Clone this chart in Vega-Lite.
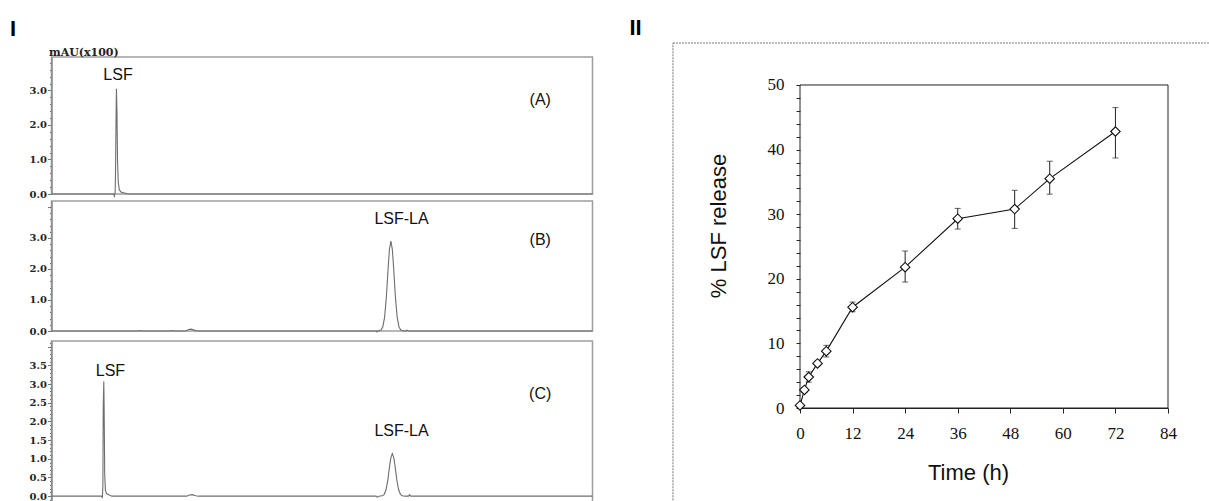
{
  "$schema": "https://vega.github.io/schema/vega-lite/v6.json",
  "background": "white",
  "padding": {"left": 9.5, "top": 16, "right": 0, "bottom": 0},
  "datasets": {
    "A": [
      {"t": 0, "v": 0}, {"t": 3.45, "v": 0}, {"t": 3.49, "v": -0.06}, {"t": 3.53, "v": 0.05}, {"t": 3.55, "v": 0.6},
      {"t": 3.58, "v": 2.2}, {"t": 3.6, "v": 3.05}, {"t": 3.63, "v": 2.4}, {"t": 3.66, "v": 1.0}, {"t": 3.7, "v": 0.35},
      {"t": 3.76, "v": 0.12}, {"t": 3.85, "v": 0.06}, {"t": 3.95, "v": 0.04}, {"t": 4.1, "v": 0.02}, {"t": 4.25, "v": 0}, {"t": 30, "v": 0}
    ],
    "B": [
      {"t": 0, "v": 0}, {"t": 4.85, "v": 0}, {"t": 4.9, "v": 0.02}, {"t": 4.95, "v": 0}, {"t": 6.65, "v": 0}, {"t": 6.7, "v": 0.02},
      {"t": 6.75, "v": 0}, {"t": 7.45, "v": 0}, {"t": 7.6, "v": 0.05}, {"t": 7.75, "v": 0.06}, {"t": 7.95, "v": 0.02}, {"t": 8.1, "v": 0},
      {"t": 18.0, "v": 0}, {"t": 18.05, "v": -0.03}, {"t": 18.1, "v": 0}, {"t": 18.27, "v": 0.03}, {"t": 18.37, "v": 0.13},
      {"t": 18.47, "v": 0.44}, {"t": 18.57, "v": 1.1}, {"t": 18.67, "v": 2.05}, {"t": 18.74, "v": 2.63}, {"t": 18.82, "v": 2.9},
      {"t": 18.9, "v": 2.63}, {"t": 18.97, "v": 2.05}, {"t": 19.07, "v": 1.1}, {"t": 19.17, "v": 0.44}, {"t": 19.27, "v": 0.13},
      {"t": 19.37, "v": 0.03}, {"t": 19.5, "v": 0.01}, {"t": 19.65, "v": 0}, {"t": 19.72, "v": 0.03}, {"t": 19.8, "v": 0}, {"t": 30, "v": 0}
    ],
    "C": [
      {"t": 0, "v": 0}, {"t": 2.78, "v": 0}, {"t": 2.82, "v": -0.05}, {"t": 2.85, "v": 0.3}, {"t": 2.87, "v": 2.4}, {"t": 2.9, "v": 3.07},
      {"t": 2.92, "v": 2.3}, {"t": 2.95, "v": 0.6}, {"t": 2.99, "v": 0.15}, {"t": 3.05, "v": 0.07}, {"t": 3.2, "v": 0.03}, {"t": 3.35, "v": 0},
      {"t": 7.5, "v": 0}, {"t": 7.65, "v": 0.03}, {"t": 7.8, "v": 0.04}, {"t": 8.0, "v": 0.01}, {"t": 8.15, "v": 0},
      {"t": 18.0, "v": 0}, {"t": 18.08, "v": -0.03}, {"t": 18.15, "v": 0}, {"t": 18.35, "v": 0.01}, {"t": 18.45, "v": 0.05},
      {"t": 18.55, "v": 0.17}, {"t": 18.65, "v": 0.43}, {"t": 18.75, "v": 0.81}, {"t": 18.82, "v": 1.03}, {"t": 18.9, "v": 1.14},
      {"t": 18.98, "v": 1.03}, {"t": 19.05, "v": 0.81}, {"t": 19.15, "v": 0.43}, {"t": 19.25, "v": 0.17}, {"t": 19.35, "v": 0.05},
      {"t": 19.45, "v": 0.01}, {"t": 19.6, "v": 0}, {"t": 19.8, "v": 0}, {"t": 19.86, "v": 0.04}, {"t": 19.92, "v": 0}, {"t": 30, "v": 0}
    ],
    "release": [
      {"t": 0, "mean": 0.4, "lo": 0.2, "hi": 0.6},
      {"t": 1, "mean": 2.8, "lo": 2.4, "hi": 3.2},
      {"t": 2, "mean": 4.8, "lo": 4.0, "hi": 5.6},
      {"t": 4, "mean": 6.9, "lo": 6.5, "hi": 7.3},
      {"t": 6, "mean": 8.8, "lo": 7.9, "hi": 9.7},
      {"t": 12, "mean": 15.6, "lo": 14.9, "hi": 16.4},
      {"t": 24, "mean": 21.8, "lo": 19.5, "hi": 24.3},
      {"t": 36, "mean": 29.3, "lo": 27.7, "hi": 30.9},
      {"t": 49, "mean": 30.8, "lo": 27.8, "hi": 33.7},
      {"t": 57, "mean": 35.5, "lo": 33.1, "hi": 38.2},
      {"t": 72, "mean": 42.8, "lo": 38.7, "hi": 46.5}
    ]
  },
  "columns": 2,
  "align": "none",
  "spacing": 33.5,
  "concat": [
    {
      "title": {"text": "I", "anchor": "start", "frame": "group", "dx": -41.5, "font": "Liberation Sans", "fontSize": 22, "fontWeight": "bold", "color": "black", "offset": 4},
      "spacing": 0,
      "vconcat": [
        {
          "width": 541, "height": 137,
          "view": {"stroke": "#9e9e9e", "strokeWidth": 1.5},
          "layer": [
            {
              "data": {"name": "A"},
              "mark": {"type": "line", "color": "#6e6e6e", "strokeWidth": 1.1},
              "encoding": {
                "x": {"field": "t", "type": "quantitative", "scale": {"domain": [0, 30], "nice": false, "zero": false},
                  "axis": {"title": null, "labels": false, "ticks": false, "domain": false, "grid": false}},
                "y": {"field": "v", "type": "quantitative", "scale": {"domain": [0, 3.97], "nice": false, "zero": false},
                  "axis": {
                    "title": "mAU(x100)", "titleAngle": 0, "titleAlign": "left", "titleBaseline": "alphabetic", "titleX": -3, "titleY": -2,
                    "titleFont": "DejaVu Serif", "titleFontWeight": "bold", "titleFontSize": 11, "titleColor": "#222",
                    "values": [0, 0.2, 0.4, 0.6, 0.8, 1, 1.2, 1.4, 1.6, 1.8, 2, 2.2, 2.4, 2.6, 2.8, 3, 3.2, 3.4, 3.6, 3.8], "tickCount": 500,
                    "labelExpr": "abs(datum.value - round(datum.value)) < 0.001 ? format(datum.value, '.1f') : ''",
                    "labelOverlap": false, "labelFont": "DejaVu Serif", "labelFontWeight": "bold", "labelFontSize": 10, "labelColor": "#222", "labelPadding": 1,
                    "tickSize": {"condition": {"test": "abs(datum.value - round(datum.value)) < 0.001", "value": 4}, "value": 2},
                    "tickColor": "#777", "domainColor": "#8a8a8a", "domainWidth": 1.5, "grid": false
                  }
                }
              }
            },
            {
              "data": {"values": [{}]},
              "mark": {"type": "text", "text": "LSF", "font": "Liberation Sans", "fontSize": 16, "color": "#111"},
              "encoding": {"x": {"datum": 3.69}, "y": {"datum": 3.46}}
            },
            {
              "data": {"values": [{}]},
              "mark": {"type": "text", "text": "(A)", "font": "Liberation Sans", "fontSize": 16, "color": "#111"},
              "encoding": {"x": {"datum": 27.1}, "y": {"datum": 2.72}}
            }
          ]
        },
        {
          "width": 541, "height": 130,
          "view": {"stroke": "#9e9e9e", "strokeWidth": 1.5},
          "layer": [
            {
              "data": {"name": "B"},
              "mark": {"type": "line", "color": "#6e6e6e", "strokeWidth": 1.1},
              "encoding": {
                "x": {"field": "t", "type": "quantitative", "scale": {"domain": [0, 30], "nice": false, "zero": false},
                  "axis": {"title": null, "labels": false, "ticks": false, "domain": false, "grid": false}},
                "y": {"field": "v", "type": "quantitative", "scale": {"domain": [0, 4.19], "nice": false, "zero": false},
                  "axis": {
                    "title": null,
                    "values": [0, 0.2, 0.4, 0.6, 0.8, 1, 1.2, 1.4, 1.6, 1.8, 2, 2.2, 2.4, 2.6, 2.8, 3, 3.2, 3.4, 3.6, 3.8, 4], "tickCount": 500,
                    "labelExpr": "abs(datum.value - round(datum.value)) < 0.001 && datum.value < 3.5 ? format(datum.value, '.1f') : ''",
                    "labelOverlap": false, "labelFont": "DejaVu Serif", "labelFontWeight": "bold", "labelFontSize": 10, "labelColor": "#222", "labelPadding": 1,
                    "tickSize": {"condition": {"test": "abs(datum.value - round(datum.value)) < 0.001", "value": 4}, "value": 2},
                    "tickColor": "#777", "domainColor": "#8a8a8a", "domainWidth": 1.5, "grid": false
                  }
                }
              }
            },
            {
              "data": {"values": [{}]},
              "mark": {"type": "text", "text": "LSF-LA", "font": "Liberation Sans", "fontSize": 16, "color": "#111"},
              "encoding": {"x": {"datum": 19.41}, "y": {"datum": 3.61}}
            },
            {
              "data": {"values": [{}]},
              "mark": {"type": "text", "text": "(B)", "font": "Liberation Sans", "fontSize": 16, "color": "#111"},
              "encoding": {"x": {"datum": 27.1}, "y": {"datum": 2.94}}
            }
          ]
        },
        {
          "width": 541, "height": 172,
          "view": {"stroke": "#9e9e9e", "strokeWidth": 1.5},
          "layer": [
            {
              "data": {"name": "C"},
              "mark": {"type": "line", "color": "#6e6e6e", "strokeWidth": 1.1},
              "encoding": {
                "x": {"field": "t", "type": "quantitative", "scale": {"domain": [0, 30], "nice": false, "zero": false},
                  "axis": {
                    "title": null,
                    "values": [0, 1, 2, 3, 4, 5, 6, 7, 8, 9, 10, 11, 12, 13, 14, 15, 16, 17, 18, 19, 20, 21, 22, 23, 24, 25, 26, 27, 28, 29, 30], "tickCount": 500,
                    "labelExpr": "datum.value % 5 === 0 && datum.value > 0 && datum.value < 30 ? format(datum.value, '.1f') : ''",
                    "labelOverlap": false, "labelFlush": false, "labelFont": "DejaVu Serif", "labelFontWeight": "bold", "labelFontSize": 10, "labelColor": "#222", "labelPadding": -1,
                    "tickSize": {"condition": {"test": "datum.value % 5 === 0", "value": 4}, "value": 3},
                    "tickColor": "#777", "domainColor": "#8a8a8a", "domainWidth": 1.5, "grid": false
                  }
                },
                "y": {"field": "v", "type": "quantitative", "scale": {"domain": [-0.45, 4.15], "nice": false, "zero": false},
                  "axis": {
                    "title": null,
                    "values": [-0.4, -0.3, -0.2, -0.1, 0, 0.1, 0.2, 0.3, 0.4, 0.5, 0.6, 0.7, 0.8, 0.9, 1, 1.1, 1.2, 1.3, 1.4, 1.5, 1.6, 1.7, 1.8, 1.9, 2, 2.1, 2.2, 2.3, 2.4, 2.5, 2.6, 2.7, 2.8, 2.9, 3, 3.1, 3.2, 3.3, 3.4, 3.5, 3.6, 3.7, 3.8, 3.9, 4, 4.1], "tickCount": 500,
                    "labelExpr": "abs(datum.value * 2 - round(datum.value * 2)) < 0.001 && datum.value > -0.01 && datum.value < 3.6 ? format(datum.value, '.1f') : ''",
                    "labelOverlap": false, "labelFont": "DejaVu Serif", "labelFontWeight": "bold", "labelFontSize": 10, "labelColor": "#222", "labelPadding": 1,
                    "tickSize": {"condition": {"test": "abs(datum.value * 2 - round(datum.value * 2)) < 0.001", "value": 4}, "value": 2},
                    "tickColor": "#777", "domainColor": "#8a8a8a", "domainWidth": 1.5, "grid": false
                  }
                }
              }
            },
            {
              "data": {"values": [{}]},
              "mark": {"type": "text", "text": "LSF", "font": "Liberation Sans", "fontSize": 16, "color": "#111"},
              "encoding": {"x": {"datum": 3.27}, "y": {"datum": 3.36}}
            },
            {
              "data": {"values": [{}]},
              "mark": {"type": "text", "text": "(C)", "font": "Liberation Sans", "fontSize": 16, "color": "#111"},
              "encoding": {"x": {"datum": 27.1}, "y": {"datum": 2.73}}
            },
            {
              "data": {"values": [{}]},
              "mark": {"type": "text", "text": "LSF-LA", "font": "Liberation Sans", "fontSize": 16, "color": "#111"},
              "encoding": {"x": {"datum": 19.41}, "y": {"datum": 1.75}}
            }
          ]
        }
      ]
    },
    {
      "width": 368, "height": 351,
      "view": {"stroke": null},
      "title": {"text": "II", "anchor": "start", "frame": "bounds", "dx": -43, "font": "Liberation Sans", "fontSize": 22, "fontWeight": "bold", "color": "black", "offset": 3},
      "layer": [
        {
          "data": {"values": [{}]},
          "mark": {"type": "rect", "fillOpacity": 0, "stroke": "#777", "strokeDash": [2, 1], "strokeWidth": 1},
          "encoding": {"x": {"datum": -29}, "x2": {"datum": 200}, "y": {"datum": 56.5}, "y2": {"datum": -40}}
        },
        {
          "data": {"values": [{}]},
          "mark": {"type": "rect", "fillOpacity": 0, "stroke": "#222", "strokeWidth": 1},
          "encoding": {"x": {"datum": 0}, "x2": {"datum": 84}, "y": {"datum": 0}, "y2": {"datum": 50}}
        },
        {
          "data": {"name": "release"},
          "mark": {"type": "rule", "color": "#222", "strokeWidth": 1},
          "encoding": {
            "x": {"field": "t", "type": "quantitative", "scale": {"domain": [0, 84], "nice": false, "zero": false},
              "axis": {
                "title": "Time (h)", "values": [0, 12, 24, 36, 48, 60, 72, 84], "tickCount": 500, "format": "d",
                "labelFont": "Liberation Serif", "labelFontSize": 17, "labelColor": "#111", "labelPadding": 12, "labelFlush": false, "labelOverlap": false,
                "tickSize": 5, "tickColor": "#222", "domainColor": "#222", "grid": false,
                "titleFont": "Liberation Sans", "titleFontSize": 22, "titleFontWeight": "normal", "titleColor": "#111",
                "titleX": 168, "titleY": 71, "titleBaseline": "alphabetic", "titleAlign": "center"
              }
            },
            "y": {"field": "lo", "type": "quantitative", "scale": {"domain": [0, 54.334], "nice": false, "zero": false},
              "axis": {
                "title": "% LSF release", "values": [0, 2, 4, 6, 8, 10, 12, 14, 16, 18, 20, 22, 24, 26, 28, 30, 32, 34, 36, 38, 40, 42, 44, 46, 48, 50], "tickCount": 500,
                "labelExpr": "datum.value % 10 === 0 ? format(datum.value, 'd') : ''",
                "labelFont": "Liberation Serif", "labelFontSize": 17, "labelColor": "#111", "labelPadding": 12, "labelOverlap": false,
                "tickSize": 4, "tickColor": "#222", "domain": false, "grid": false,
                "titleFont": "Liberation Sans", "titleFontSize": 22, "titleFontWeight": "normal", "titleColor": "#111",
                "titleX": -75, "titleY": 168.5, "titleBaseline": "alphabetic", "titleAlign": "center", "titleAngle": 270
              }
            },
            "y2": {"field": "hi"}
          }
        },
        {
          "data": {"name": "release"},
          "mark": {"type": "tick", "orient": "horizontal", "size": 6, "thickness": 1, "color": "#222"},
          "encoding": {"x": {"field": "t", "type": "quantitative"}, "y": {"field": "lo", "type": "quantitative"}}
        },
        {
          "data": {"name": "release"},
          "mark": {"type": "tick", "orient": "horizontal", "size": 6, "thickness": 1, "color": "#222"},
          "encoding": {"x": {"field": "t", "type": "quantitative"}, "y": {"field": "hi", "type": "quantitative"}}
        },
        {
          "data": {"name": "release"},
          "mark": {"type": "line", "color": "#111", "strokeWidth": 1.1},
          "encoding": {"x": {"field": "t", "type": "quantitative"}, "y": {"field": "mean", "type": "quantitative"}}
        },
        {
          "data": {"name": "release"},
          "mark": {"type": "point", "shape": "diamond", "filled": true, "fill": "white", "stroke": "#111", "strokeWidth": 1.1, "size": 90, "opacity": 1},
          "encoding": {"x": {"field": "t", "type": "quantitative"}, "y": {"field": "mean", "type": "quantitative"}}
        }
      ]
    }
  ]
}
